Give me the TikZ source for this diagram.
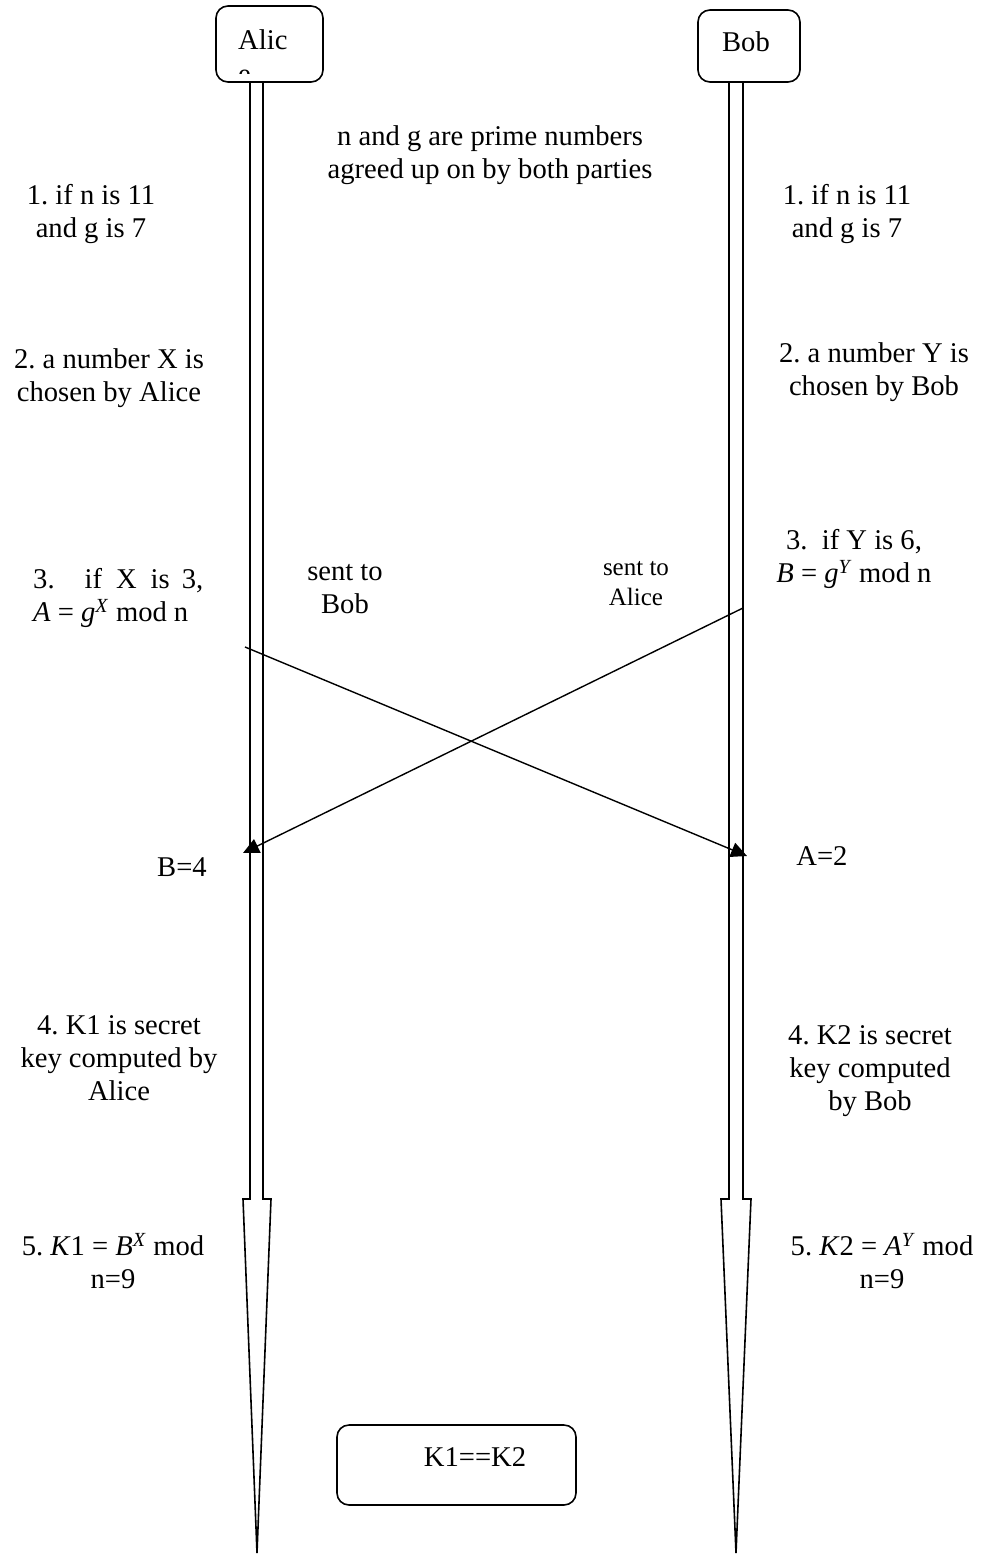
\documentclass[tikz,border=0pt]{standalone}
\usepackage{fontspec}
\setmainfont{Liberation Serif}
\usetikzlibrary{arrows.meta}
\frenchspacing
\newcommand{\mi}[1]{\textit{#1}}
\tikzset{
  txt/.style={font=\fontsize{28.6}{33}\selectfont, inner sep=0pt, align=center},
  smalltxt/.style={font=\fontsize{25}{30}\selectfont, inner sep=0pt, align=center},
  actor/.style={draw, line width=1.6pt, rounded corners=12pt, inner sep=0pt},
  life/.style={draw, line width=1.6pt},
  msg/.style={line width=1.4pt, -{Triangle[length=16pt,width=15pt]}},
}
\begin{document}
\begin{tikzpicture}[x=1pt,y=-1pt]
\useasboundingbox (0,0) rectangle (991,1555);
% actor boxes
\node[actor, minimum width=107pt, minimum height=76pt] (alice) at (269.5,44) {};
\begin{scope}
  \clip (218,8) rectangle (321,74);
  \node[txt, align=left, anchor=base west] (alicetext) at (238,83) {Alic\\e};
\end{scope}
\node[actor, minimum width=102pt, minimum height=72pt] (bob) at (749,46) {};
\node[txt] (bobtext) at (746,42) {Bob};
% lifelines
\draw[life, line join=miter] (250,82) -- (250,1199) -- (243,1199) -- (257,1553) -- (271,1199) -- (263,1199) -- (263,82);
\draw[life, line join=miter] (729,82) -- (729,1199) -- (721,1199) -- (736,1553) -- (751,1199) -- (743,1199) -- (743,82);
% texts
\node[txt] (top) at (490,155) {n and g are prime numbers\\agreed up on by both parties};
\node[txt] (l1) at (91,214) {1. if n is 11\\and g is 7};
\node[txt] (r1) at (847,214) {1. if n is 11\\and g is 7};
\node[txt] (l2) at (109,378) {2. a number X is\\chosen by Alice};
\node[txt] (r2) at (874,372) {2. a number Y is\\chosen by Bob};
\node[txt, align=left, anchor=west] (l3) at (33,598) {3.\hspace{30pt}if\hspace{14pt}X\hspace{14pt}is\hspace{12pt}3,\\\mi{A} = \mi{g}\textsuperscript{\mi{X}} mod n};
\node[txt] (sentbob) at (345,589) {sent to\\Bob};
\node[smalltxt] (sentalice) at (636,584) {sent to\\Alice};
\node[txt] (r3) at (854,559) {3.\ \ if Y is 6,\\\mi{B} = \mi{g}\textsuperscript{\mi{Y}} mod n};
\node[txt] (bval) at (182,867) {B=4};
\node[txt] (aval) at (822,856) {A=2};
\node[txt] (l4) at (119,1058) {4. K1 is secret\\key computed by\\Alice};
\node[txt] (r4) at (870,1071) {4. K2 is secret\\key computed\\by Bob};
\node[txt] (l5) at (113,1261) {5. \mi{K}1 = \mi{B}\textsuperscript{\mi{X}} mod\\n=9};
\node[txt] (r5) at (882,1261) {5. \mi{K}2 = \mi{A}\textsuperscript{\mi{Y}} mod\\n=9};
% result box
\node[actor, minimum width=239pt, minimum height=80pt] (res) at (456.5,1465) {};
\node[txt] (restext) at (475,1457) {K1==K2};
% messages
\coordinate (asend) at (245,647);
\coordinate (brecv) at (747,856);
\coordinate (bsend) at (743,608);
\coordinate (arecv) at (243,853);
\draw[msg] (asend) -- (brecv);
\draw[msg] (bsend) -- (arecv);
\end{tikzpicture}
\end{document}
